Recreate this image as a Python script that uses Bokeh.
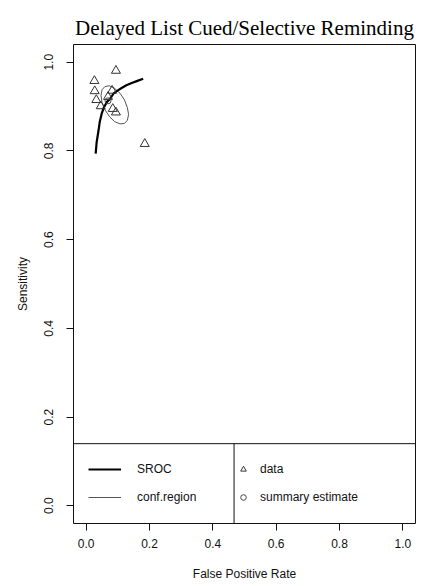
from bokeh.plotting import figure
from bokeh.models import (Range1d, FixedTicker, PrintfTickFormatter, Legend, LegendItem)
from bokeh.embed import file_html
from bokeh.resources import INLINE

# ---- data ----
data_fpr = [0.094, 0.026, 0.027, 0.082, 0.032, 0.069, 0.046, 0.084, 0.094, 0.185]
data_sens = [0.981, 0.958, 0.935, 0.936, 0.915, 0.922, 0.901, 0.895, 0.887, 0.816]

sroc_fpr = [0.030, 0.033, 0.039, 0.043, 0.049, 0.056, 0.065, 0.075, 0.086, 0.099,
            0.112, 0.127, 0.144, 0.162, 0.180]
sroc_sens = [0.794, 0.819, 0.846, 0.866, 0.884, 0.898, 0.910, 0.917, 0.929, 0.936,
             0.942, 0.948, 0.953, 0.958, 0.963]

conf_fpr = [0.121, 0.130, 0.134, 0.130, 0.121, 0.107, 0.090, 0.073, 0.059, 0.050,
            0.047, 0.050, 0.060, 0.074, 0.090, 0.107, 0.121]
conf_sens = [0.862, 0.869, 0.882, 0.898, 0.915, 0.930, 0.941, 0.947, 0.945, 0.938,
             0.925, 0.909, 0.892, 0.877, 0.866, 0.861, 0.862]

summary_fpr = [0.069]
summary_sens = [0.913]

ticks = [0.0, 0.2, 0.4, 0.6, 0.8, 1.0]
title_text = "Delayed List Cued/Selective Reminding"
x_label = "False Positive Rate"
y_label = "Sensitivity"

# legend box layout (data units)
LEG_TOP = 0.14
LEG_DIV = 0.467
LO, HI = -0.04, 1.04

SANS = "Liberation Sans"
SERIF = "Liberation Serif"

p = figure(width=427, height=586, output_backend="svg", toolbar_location=None,
           x_range=Range1d(LO, HI), y_range=Range1d(LO, HI),
           min_border_left=73, min_border_right=12, min_border_top=44, min_border_bottom=63,
           title=title_text)
p.background_fill_color = "white"
p.border_fill_color = "white"
p.outline_line_color = "#111"
p.outline_line_width = 1
p.grid.visible = False

p.title.text_font = SERIF
p.title.text_font_size = "21px"
p.title.text_font_style = "normal"
p.title.align = "center"
p.title.text_color = "black"

for ax in (p.xaxis[0], p.yaxis[0]):
    ax.ticker = FixedTicker(ticks=ticks)
    ax.formatter = PrintfTickFormatter(format="%.1f")
    ax.axis_line_color = None
    ax.major_tick_out = 7
    ax.major_tick_in = 0
    ax.major_tick_line_color = "#111"
    ax.minor_tick_line_color = None
    ax.major_label_text_font = SANS
    ax.major_label_text_font_size = "12px"
    ax.major_label_text_color = "#111"
    ax.axis_label_text_font = SANS
    ax.axis_label_text_font_size = "12px"
    ax.axis_label_text_font_style = "normal"
    ax.axis_label_text_color = "#111"

p.xaxis[0].axis_label = x_label
p.xaxis[0].major_label_standoff = 8
p.xaxis[0].axis_label_standoff = 16
p.yaxis[0].axis_label = y_label
p.yaxis[0].major_label_orientation = "vertical"
p.yaxis[0].major_label_standoff = 13
p.yaxis[0].axis_label_standoff = 12

# conf region
conf_r = p.line(conf_fpr, conf_sens, line_color="#555", line_width=1)
# SROC curve
sroc_r = p.line(sroc_fpr, sroc_sens, line_color="black", line_width=2.2)
# data points
data_r = p.scatter(data_fpr, data_sens, marker="triangle", size=9, fill_color=None,
                   line_color="#333", line_width=1)
# summary estimate
summ_r = p.scatter(summary_fpr, summary_sens, marker="circle", size=6, fill_color=None,
                   line_color="#444", line_width=1)

# legend box lines
p.segment(x0=[LO, LEG_DIV], y0=[LEG_TOP, LO], x1=[HI, LEG_DIV], y1=[LEG_TOP, LEG_TOP],
          line_color="#111", line_width=1)

def make_legend(items, loc, gw, standoff):
    lg = Legend(items=items, location=loc, orientation="vertical",
                padding=0, margin=0, spacing=8, glyph_width=gw, glyph_height=20,
                label_height=20, label_standoff=standoff,
                border_line_color=None, background_fill_alpha=0,
                label_text_font=SANS, label_text_font_size="12px", label_text_color="#111")
    return lg

leg1 = make_legend([LegendItem(label="SROC", renderers=[sroc_r]),
                    LegendItem(label="conf.region", renderers=[conf_r])], (15, 16), 33, 16)
leg2 = make_legend([LegendItem(label="data", renderers=[data_r]),
                    LegendItem(label="summary estimate", renderers=[summ_r])], (163, 16), 14, 10)
p.add_layout(leg1, "center")
p.add_layout(leg2, "center")

open("out.html", "w").write(file_html(p, INLINE))
